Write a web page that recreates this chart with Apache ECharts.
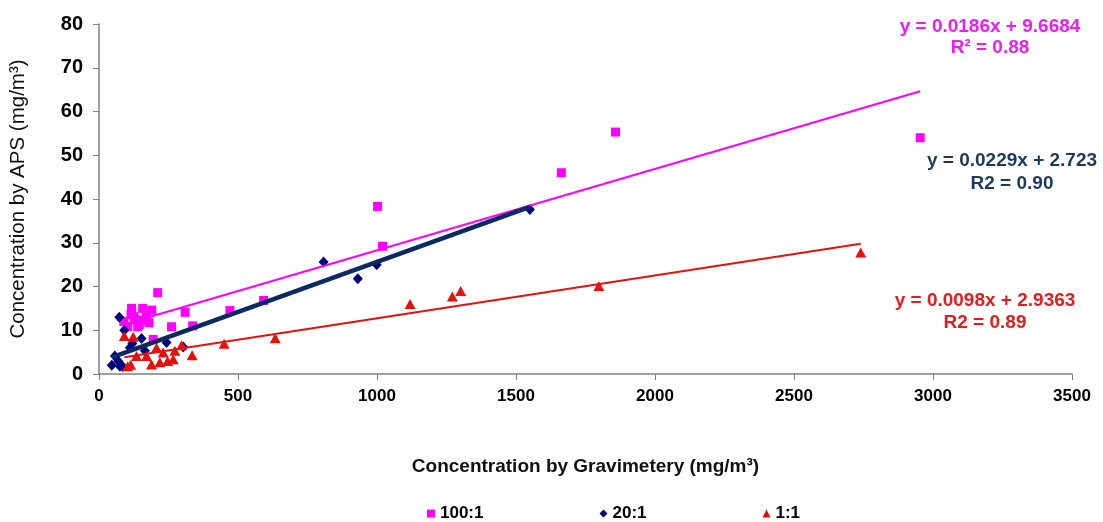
<!DOCTYPE html>
<html>
<head>
<meta charset="utf-8">
<script src="https://cdn.jsdelivr.net/npm/echarts@6/dist/echarts.min.js"></script>
<style>
  html, body { margin: 0; padding: 0; background: #ffffff; }
  #chart { width: 1103px; height: 522px; }
</style>
</head>
<body>
<div id="chart"></div>
<script>
// Gravimetric concentration (x, mg/m3) vs APS concentration (y, mg/m3)
const ratio100 = [
  [89, 12.0], [103, 10.8], [115, 13.6], [117, 15.0], [126, 13.1], [133, 12.4],
  [139, 10.8], [145, 11.2], [151, 12.3], [157, 15.0], [170, 13.4], [180, 11.7],
  [190, 14.6], [195, 7.9], [211, 18.6], [261, 10.8], [310, 14.1], [337, 11.0],
  [471, 14.5], [592, 16.8], [1002, 38.3], [1020, 29.2], [1663, 46.0],
  [1858, 55.3], [2954, 54.0]
];
const ratio20 = [
  [46, 2.0], [57, 4.1], [69, 3.0], [73, 13.0], [75, 1.8], [85, 1.7], [91, 10.0],
  [111, 6.0], [120, 7.0], [153, 8.1], [165, 5.3], [243, 7.2], [303, 6.2],
  [808, 25.6], [931, 21.8], [999, 25.0], [1550, 37.6]
];
const ratio1 = [
  [91, 8.7], [103, 1.8], [114, 2.1], [123, 8.5], [135, 4.1], [171, 4.1],
  [189, 2.2], [207, 6.0], [219, 2.7], [231, 4.9], [247, 3.0], [267, 3.4],
  [273, 5.3], [297, 6.6], [335, 4.3], [450, 6.9], [634, 8.2], [1119, 16.0],
  [1271, 17.7], [1301, 19.0], [1798, 20.1], [2740, 27.8]
];

// Linear fits: [slope, intercept]
const fit100 = [0.0186, 9.6684];
const fit20 = [0.0229, 2.723];
const fit1 = [0.0098, 2.9363];

const seriesNames = ['100:1', '20:1', '1:1'];
const fitLabels100 = ['y = 0.0186x + 9.6684', 'R\u00B2 = 0.88'];
const fitLabels20 = ['y = 0.0229x + 2.723', 'R2 = 0.90'];
const fitLabels1 = ['y = 0.0098x + 2.9363', 'R2 = 0.89'];

const xTicks = [0, 500, 1000, 1500, 2000, 2500, 3000, 3500];
const yTicks = [0, 10, 20, 30, 40, 50, 60, 70, 80];

const PINK = '#ff00ff';
const NAVY = '#000080';
const NAVY_LINE = '#0c2a62';
const RED = '#e8100c';

// Trend line spanning the x-range of a series
function trend(points, fit) {
  const xs = points.map(p => p[0]);
  const lo = Math.min.apply(null, xs), hi = Math.max.apply(null, xs);
  return [[lo, fit[0] * lo + fit[1]], [hi, fit[0] * hi + fit[1]]];
}

const FONT = '"Liberation Sans", Arial, sans-serif';

function fitText(lines, color, cx, y1, y2) {
  return lines.map((t, i) => ({
    type: 'text',
    x: cx, y: i === 0 ? y1 : y2,
    style: {
      text: t, fill: color, font: 'bold 19px ' + FONT,
      align: 'center', verticalAlign: 'middle'
    }
  }));
}

const chart = echarts.init(document.getElementById('chart'));
chart.setOption({
  backgroundColor: '#ffffff',
  animation: false,
  grid: { left: 98, right: 31, top: 24, bottom: 148 },
  xAxis: {
    type: 'value', min: xTicks[0], max: xTicks[xTicks.length - 1], interval: 500,
    name: 'Concentration by Gravimetery (mg/m\u00B3)',
    nameLocation: 'middle', nameGap: 83,
    nameTextStyle: { fontFamily: FONT, fontWeight: 'bold', fontSize: 19, color: '#111' },
    axisLine: { lineStyle: { color: '#808080', width: 1.5 } },
    axisTick: { show: true, length: 6, lineStyle: { color: '#808080' } },
    axisLabel: {
      fontFamily: FONT, fontWeight: 'bold', fontSize: 17, color: '#000', margin: 14,
      formatter: v => String(v)
    },
    splitLine: { show: false }
  },
  yAxis: {
    type: 'value', min: yTicks[0], max: yTicks[yTicks.length - 1], interval: 10,
    name: 'Concentration by APS (mg/m\u00B3)',
    nameLocation: 'middle', nameGap: 70,
    nameTextStyle: { fontFamily: FONT, fontSize: 20.5, color: '#111' },
    axisLine: { show: true, lineStyle: { color: '#808080', width: 1.5 } },
    axisTick: { show: true, length: 6, lineStyle: { color: '#808080' } },
    axisLabel: {
      fontFamily: FONT, fontWeight: 'bold', fontSize: 20, color: '#000', margin: 16,
      formatter: v => String(v)
    },
    splitLine: { show: false }
  },
  legend: {
    data: [
      { name: seriesNames[0], icon: 'rect' },
      { name: seriesNames[1], icon: 'diamond' },
      { name: seriesNames[2], icon: 'triangle' }
    ],
    left: 422, top: 500,
    itemWidth: 8, itemHeight: 8, itemGap: 116,
    textStyle: { fontFamily: FONT, fontWeight: 'bold', fontSize: 17, color: '#000' }
  },
  series: [
    {
      name: seriesNames[0], type: 'scatter', data: ratio100,
      symbol: 'rect', symbolSize: 9, itemStyle: { color: PINK, opacity: 1 }, z: 2
    },
    {
      name: seriesNames[1], type: 'scatter', data: ratio20,
      symbol: 'diamond', symbolSize: [10, 11], itemStyle: { color: NAVY, opacity: 1 }, z: 2
    },
    {
      name: seriesNames[2], type: 'scatter', data: ratio1,
      symbol: 'triangle', symbolSize: [11, 10], itemStyle: { color: RED, opacity: 1 }, z: 2
    },
    {
      name: 'fit100', type: 'line', data: trend(ratio100, fit100), symbol: 'none', silent: true,
      lineStyle: { color: PINK, width: 2 }, z: 3
    },
    {
      name: 'fit20', type: 'line', data: trend(ratio20, fit20), symbol: 'none', silent: true,
      lineStyle: { color: NAVY_LINE, width: 4.5 }, z: 3
    },
    {
      name: 'fit1', type: 'line', data: trend(ratio1, fit1), symbol: 'none', silent: true,
      lineStyle: { color: RED, width: 2 }, z: 3
    }
  ],
  graphic: [].concat(
    fitText(fitLabels100, '#ee1cee', 990, 27, 48),
    fitText(fitLabels20, '#1c3a5e', 1012, 161, 184),
    fitText(fitLabels1, '#e41c1c', 985, 301, 323)
  )
});
</script>
</body>
</html>
